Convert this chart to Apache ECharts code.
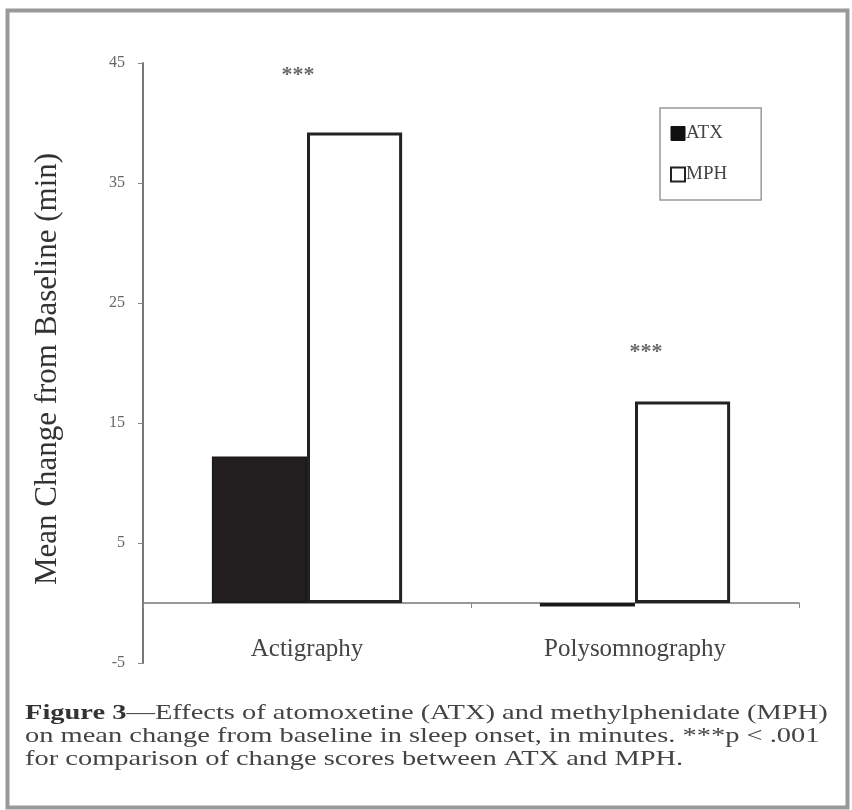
<!DOCTYPE html>
<html>
<head>
<meta charset="utf-8">
<script src="https://cdn.jsdelivr.net/npm/echarts@6/dist/echarts.min.js"></script>
<style>
html,body{margin:0;padding:0;background:#fff;}
#chart{width:852px;height:810px;}
</style>
</head>
<body>
<div id="chart"></div>
<script>
const categories = ['Actigraphy', 'Polysomnography'];
const atxValues = [12.2, -0.3];
const mphValues = [39.2, 16.8];
const starValues = [44.0, 20.9];
const starLabels = ['***', '***'];
const yTicks = [-5, 5, 15, 25, 35, 45];
const seriesNames = ['ATX', 'MPH'];
const yTitle = 'Mean Change from Baseline (min)';
const captionBold = 'Figure 3';
const captionLines = [
  '\u2014Effects of atomoxetine (ATX) and methylphenidate (MPH)',
  'on mean change from baseline in sleep onset, in minutes. ***p < .001',
  'for comparison of change scores between ATX and MPH.'
];

const serif = '"Liberation Serif","DejaVu Serif",serif';
const starOffsets = [[-9, 0], [11, 0]];
const chart = echarts.init(document.getElementById('chart'));

chart.setOption({
  animation: false,
  backgroundColor: '#fff',
  grid: { left: 143, right: 53, top: 63, bottom: 147, containLabel: false },
  legend: {
    orient: 'vertical',
    left: 660, top: 108,
    padding: [16, 34, 16, 10],
    itemGap: 22,
    itemWidth: 14, itemHeight: 14,
    icon: 'rect',
    borderColor: '#999', borderWidth: 1.5,
    data: [
      { name: seriesNames[0], itemStyle: { color: '#111', borderColor: '#111', borderWidth: 1 } },
      { name: seriesNames[1], itemStyle: { color: '#fff', borderColor: '#222', borderWidth: 2 } }
    ],
    textStyle: { fontFamily: serif, fontSize: 19, color: '#444', padding: [0, 0, 0, -4] }
  },
  xAxis: {
    type: 'category',
    data: categories,
    axisLine: { onZero: true, lineStyle: { color: '#777', width: 1.5 } },
    axisTick: { show: true, alignWithLabel: false, length: 5, lineStyle: { color: '#888' } },
    axisLabel: { fontFamily: serif, fontSize: 25, color: '#444', margin: -26 }
  },
  yAxis: {
    type: 'value',
    min: -5, max: 45, interval: 10,
    name: yTitle,
    nameLocation: 'middle',
    nameGap: 80,
    nameTextStyle: { fontFamily: serif, fontSize: 31, color: '#333', padding: [0, 0, 0, -12] },
    axisLine: { show: true, lineStyle: { color: '#777', width: 2 } },
    axisTick: { show: true, length: 5, lineStyle: { color: '#888' } },
    axisLabel: {
      fontFamily: serif, fontSize: 16, color: '#666', margin: 18,
      formatter: function (v) { return yTicks.indexOf(v) >= 0 ? String(v) : ''; }
    },
    splitLine: { show: false }
  },
  series: [
    {
      name: seriesNames[0], type: 'bar', data: atxValues,
      barGap: '0%', barCategoryGap: '42%',
      itemStyle: { color: '#231f20', borderColor: '#1a1a1a', borderWidth: 2 }
    },
    {
      name: seriesNames[1], type: 'bar', data: mphValues,
      itemStyle: { color: '#ffffff', borderColor: '#222', borderWidth: 3 }
    },
    {
      name: 'stars', type: 'scatter', symbolSize: 1,
      itemStyle: { color: 'rgba(0,0,0,0)' },
      data: starValues.map(function (v, i) {
        return { value: [categories[i], v], label: { offset: starOffsets[i] } };
      }),
      label: {
        show: true, position: 'inside',
        formatter: function (p) { return starLabels[p.dataIndex]; },
        fontFamily: serif, fontSize: 22, fontWeight: 'bold', color: '#444'
      },
      silent: true
    }
  ],
  graphic: [
    {
      type: 'rect', left: 5, top: 8, silent: true,
      shape: { width: 840, height: 797 },
      style: { fill: 'none', stroke: '#999', lineWidth: 4 }
    },
    {
      type: 'text', x: 25, y: 702, scaleX: 1.355, silent: true,
      style: {
        text: '{b|' + captionBold + '}{n|' + captionLines[0] + '}\n{n|' + captionLines[1] + '}\n{n|' + captionLines[2] + '}',
        lineHeight: 23,
        rich: {
          b: { fontFamily: serif, fontSize: 21, fontWeight: 'bold', fill: '#333', lineHeight: 23 },
          n: { fontFamily: serif, fontSize: 21, fill: '#444', lineHeight: 23 }
        }
      }
    }
  ]
});
</script>
</body>
</html>
